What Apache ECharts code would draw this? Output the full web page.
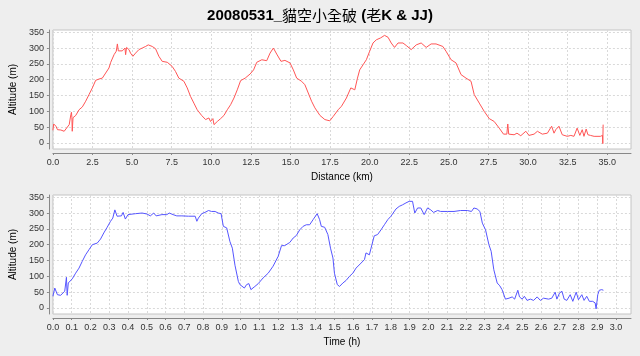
<!DOCTYPE html>
<html>
<head>
<meta charset="utf-8">
<script src="https://cdn.jsdelivr.net/npm/echarts@6/dist/echarts.min.js"></script>
<style>
html,body{margin:0;padding:0;background:#eeeeee;}
#c{width:640px;height:356px;}
</style>
</head>
<body>
<div id="c"></div>
<script>
// ---- data ----
var titleText = "20080531_貓空小全破 (老K & JJ)";
// distance profile: [km, altitude m]
var distProfile = [[0,40],[0.05,60],[0.1,65],[0.19,53],[0.29,42],[0.5,41],[0.71,37],[0.82,35],[1.03,58],[1.13,89],[1.17,97],[1.2,80],[1.22,37],[1.27,80],[1.44,87],[1.65,105],[1.86,114],[2.07,132],[2.28,153],[2.49,174],[2.7,198],[2.91,202],[3.12,205],[3.33,221],[3.54,237],[3.65,255],[3.86,279],[4.0,290],[4.07,313],[4.13,291],[4.38,291],[4.55,300],[4.59,279],[4.65,302],[4.8,295],[4.9,284],[5.05,274],[5.22,284],[5.43,295],[5.64,300],[5.85,305],[6.02,310],[6.27,305],[6.48,298],[6.69,274],[6.9,258],[7.22,255],[7.53,242],[7.74,226],[7.95,205],[8.27,195],[8.48,174],[8.69,147],[8.9,126],[9.11,105],[9.39,87],[9.64,74],[9.85,79],[9.95,68],[10.05,70],[10.1,77],[10.17,58],[10.38,68],[10.59,77],[10.8,87],[11.01,105],[11.22,121],[11.43,142],[11.64,168],[11.85,197],[12.14,205],[12.45,218],[12.67,231],[12.87,255],[13.19,263],[13.5,260],[13.71,284],[13.92,300],[14.13,281],[14.4,258],[14.65,261],[14.97,253],[15.18,231],[15.39,205],[15.7,195],[15.91,184],[16.12,158],[16.33,132],[16.54,111],[16.86,87],[17.17,74],[17.48,70],[17.7,84],[18.01,105],[18.22,116],[18.53,142],[18.81,174],[19.06,168],[19.23,205],[19.37,231],[19.58,247],[19.79,263],[20.0,290],[20.21,316],[20.42,326],[20.69,332],[20.94,340],[21.16,334],[21.36,316],[21.57,302],[21.79,316],[22.1,316],[22.31,308],[22.62,295],[22.94,310],[23.25,316],[23.57,302],[23.88,313],[24.19,313],[24.62,305],[24.82,290],[25.14,263],[25.45,253],[25.77,216],[26.08,205],[26.4,195],[26.6,153],[26.92,126],[27.23,100],[27.55,77],[27.86,68],[28.18,47],[28.45,28],[28.66,28],[28.72,60],[28.78,28],[29.12,26],[29.3,31],[29.54,23],[29.86,37],[30.06,24],[30.38,28],[30.59,37],[30.9,28],[31.22,31],[31.3,26],[31.49,53],[31.64,31],[31.75,42],[31.95,53],[32.16,26],[32.48,21],[32.7,24],[32.9,21],[33.1,47],[33.27,24],[33.42,42],[33.53,21],[33.67,44],[33.78,26],[33.94,24],[34.17,21],[34.57,21],[34.7,24],[34.72,-2],[34.74,58]];
// time profile: [hours, altitude m]
var timeProfile = [[0,37],[0.01,63],[0.024,42],[0.041,40],[0.05,35],[0.063,53],[0.072,97],[0.076,40],[0.079,37],[0.082,79],[0.103,92],[0.121,110],[0.139,126],[0.156,147],[0.174,168],[0.192,184],[0.21,200],[0.236,205],[0.254,218],[0.271,237],[0.289,255],[0.307,274],[0.319,284],[0.33,310],[0.342,290],[0.35,295],[0.365,291],[0.374,302],[0.386,281],[0.4,295],[0.44,298],[0.475,300],[0.501,297],[0.51,302],[0.519,291],[0.537,300],[0.55,291],[0.581,295],[0.607,295],[0.62,300],[0.64,295],[0.66,291],[0.687,291],[0.722,290],[0.758,290],[0.767,274],[0.775,284],[0.793,298],[0.81,302],[0.829,308],[0.845,305],[0.864,305],[0.881,300],[0.896,298],[0.908,258],[0.926,253],[0.943,210],[0.956,189],[0.97,135],[0.988,84],[0.996,74],[1.005,79],[1.02,63],[1.032,74],[1.044,77],[1.055,58],[1.076,68],[1.094,77],[1.12,95],[1.147,110],[1.173,132],[1.2,163],[1.218,197],[1.235,197],[1.262,207],[1.28,221],[1.297,229],[1.315,247],[1.333,258],[1.35,263],[1.368,263],[1.386,279],[1.408,298],[1.421,279],[1.43,258],[1.448,255],[1.465,232],[1.479,189],[1.492,158],[1.5,110],[1.515,74],[1.527,68],[1.545,79],[1.562,87],[1.58,100],[1.598,110],[1.615,126],[1.642,142],[1.66,153],[1.668,174],[1.686,168],[1.695,189],[1.712,228],[1.73,232],[1.748,247],[1.766,263],[1.784,279],[1.801,290],[1.828,313],[1.845,321],[1.863,326],[1.881,332],[1.898,337],[1.916,337],[1.928,300],[1.943,316],[1.96,316],[1.978,295],[1.996,316],[2.013,310],[2.028,302],[2.05,308],[2.066,305],[2.102,305],[2.137,305],[2.172,308],[2.208,308],[2.23,305],[2.243,316],[2.26,313],[2.275,305],[2.288,268],[2.305,247],[2.323,200],[2.335,179],[2.349,121],[2.367,79],[2.381,70],[2.393,58],[2.411,28],[2.43,31],[2.447,35],[2.46,28],[2.477,56],[2.486,35],[2.5,28],[2.512,37],[2.526,24],[2.544,28],[2.561,24],[2.58,35],[2.597,24],[2.614,31],[2.641,28],[2.658,31],[2.676,50],[2.685,28],[2.699,47],[2.712,53],[2.724,28],[2.738,24],[2.756,42],[2.77,21],[2.788,50],[2.8,26],[2.818,42],[2.83,24],[2.844,37],[2.858,21],[2.876,21],[2.889,16],[2.894,-3],[2.903,42],[2.911,56],[2.924,58],[2.933,56]];
var altTicks = [0,50,100,150,200,250,300,350];
var distTicks = [0,2.5,5,7.5,10,12.5,15,17.5,20,22.5,25,27.5,30,32.5,35];
var timeTicks = [0,0.1,0.2,0.3,0.4,0.5,0.6,0.7,0.8,0.9,1.0,1.1,1.2,1.3,1.4,1.5,1.6,1.7,1.8,1.9,2.0,2.1,2.2,2.3,2.4,2.5,2.6,2.7,2.8,2.9,3.0];

var FONT = "'Liberation Sans', Arial, sans-serif";
function xAxisCfg(grid, name, ticks, max) {
  return {
    type: 'value', gridIndex: grid, min: 0, max: max, offset: 4,
    name: name, nameLocation: 'middle', nameGap: 19,
    nameTextStyle: {fontFamily: FONT, fontSize: 10, color: '#000'},
    axisLine: {show: true, onZero: false, lineStyle: {color: '#888', width: 1}},
    axisTick: {show: true, length: 2, customValues: ticks, lineStyle: {color: '#888'}},
    axisLabel: {customValues: ticks, formatter: function(v){return v.toFixed(1);}, margin: 5,
      fontFamily: FONT, fontSize: 9, color: '#333'},
    splitLine: {show: true, lineStyle: {color: '#d9d9d9', type: [2,2], width: 1}}
  };
}
function yAxisCfg(grid) {
  return {
    type: 'value', gridIndex: grid, min: -19, max: 357, offset: 4,
    name: 'Altitude (m)', nameLocation: 'middle', nameGap: 22, nameRotate: 90,
    nameTextStyle: {fontFamily: FONT, fontSize: 10, color: '#000'},
    axisLine: {show: true, onZero: false, lineStyle: {color: '#888', width: 1}},
    axisTick: {show: true, length: 2, customValues: altTicks, lineStyle: {color: '#888'}},
    axisLabel: {customValues: altTicks, margin: 5, fontFamily: FONT, fontSize: 9, color: '#333'},
    splitLine: {show: true, lineStyle: {color: '#d9d9d9', type: [2,2], width: 1}}
  };
}
var chart = echarts.init(document.getElementById('c'), null, {renderer: 'canvas'});
chart.setOption({
  backgroundColor: '#eeeeee',
  animation: false,
  title: {
    text: '{b|20080531_}{n|貓空小全破}{b| (}{n|老}{b|K & JJ)}',
    left: 'center', top: 3,
    textStyle: {
      rich: {
        b: {fontFamily: FONT, fontWeight: 'bold', fontSize: 15, color: '#000'},
        n: {fontFamily: "'Noto Sans CJK TC', sans-serif", fontWeight: 'normal', fontSize: 15, color: '#000'}
      }
    }
  },
  grid: [
    {left: 51, top: 30, width: 580, height: 119, show: true, backgroundColor: '#ffffff', borderColor: '#c4c4c4', borderWidth: 1},
    {left: 51, top: 195, width: 580, height: 119, show: true, backgroundColor: '#ffffff', borderColor: '#c4c4c4', borderWidth: 1}
  ],
  xAxis: [xAxisCfg(0, 'Distance (km)', distTicks, 36.5), xAxisCfg(1, 'Time (h)', timeTicks, 3.08)],
  yAxis: [yAxisCfg(0), yAxisCfg(1)],
  series: [
    {type: 'line', xAxisIndex: 0, yAxisIndex: 0, data: distProfile, showSymbol: false, symbol: 'none',
      lineStyle: {color: '#ff5555', width: 1}, itemStyle: {color: '#ff5555'}},
    {type: 'line', xAxisIndex: 1, yAxisIndex: 1, data: timeProfile, showSymbol: false, symbol: 'none',
      lineStyle: {color: '#5555ff', width: 1}, itemStyle: {color: '#5555ff'}}
  ]
});
</script>
</body>
</html>
